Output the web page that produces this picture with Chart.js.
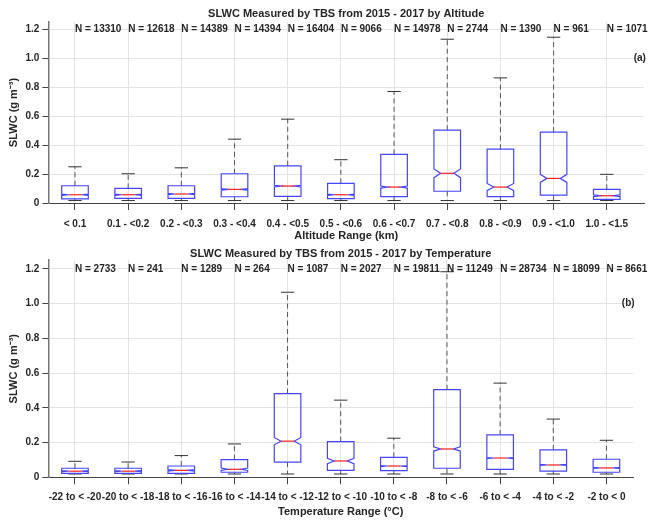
<!DOCTYPE html>
<html>
<head>
<meta charset="utf-8">
<script src="https://cdn.jsdelivr.net/npm/chart.js@4.4.0/dist/chart.umd.min.js"></script>
<style>
  body { margin: 0; background: #fff; }
  #wrap { position: relative; width: 648px; height: 523px; }
  canvas { position: absolute; left: 0; }
  #c1 { top: 0; }
  #c2 { top: 245px; }
</style>
</head>
<body>
<div id="wrap">
  <canvas id="c1" width="648" height="245"></canvas>
  <canvas id="c2" width="648" height="278"></canvas>
</div>
<script>
// ---- (a) altitude bins ----
var altLabels = ['< 0.1', '0.1 - <0.2', '0.2 - <0.3', '0.3 - <0.4', '0.4 - <0.5', '0.5 - <0.6',
                 '0.6 - <0.7', '0.7 - <0.8', '0.8 - <0.9', '0.9 - <1.0', '1.0 - <1.5'];
var altN     = [13310, 12618, 14389, 14394, 16404, 9066, 14978, 2744, 1390, 961, 1071];
var altLow   = [0.017, 0.017, 0.017, 0.017, 0.017, 0.017, 0.017, 0.017, 0.017, 0.017, 0.017];
var altQ1    = [0.028, 0.032, 0.032, 0.043, 0.046, 0.030, 0.044, 0.081, 0.044, 0.055, 0.025];
var altMed   = [0.057, 0.057, 0.062, 0.094, 0.117, 0.057, 0.110, 0.205, 0.110, 0.170, 0.050];
var altQ3    = [0.119, 0.101, 0.119, 0.202, 0.257, 0.136, 0.336, 0.503, 0.372, 0.490, 0.094];
var altHigh  = [0.250, 0.202, 0.243, 0.441, 0.579, 0.299, 0.770, 1.131, 0.864, 1.145, 0.198];
var altNotch = [0.004, 0.004, 0.004, 0.005, 0.005, 0.004, 0.007, 0.030, 0.025, 0.028, 0.006];

// ---- (b) temperature bins ----
var tempLabels = ['-22 to < -20', '-20 to < -18', '-18 to < -16', '-16 to < -14', '-14 to < -12', '-12 to < -10',
                  '-10 to < -8', '-8 to < -6', '-6 to < -4', '-4 to < -2', '-2 to < 0'];
var tempN     = [2733, 241, 1289, 264, 1087, 2027, 19811, 11249, 28734, 18099, 8661];
var tempLow   = [0.019, 0.019, 0.019, 0.019, 0.019, 0.019, 0.019, 0.019, 0.019, 0.019, 0.019];
var tempQ1    = [0.023, 0.023, 0.023, 0.029, 0.087, 0.040, 0.038, 0.052, 0.046, 0.036, 0.029];
var tempMed   = [0.035, 0.035, 0.040, 0.046, 0.208, 0.094, 0.065, 0.163, 0.111, 0.071, 0.054];
var tempQ3    = [0.052, 0.052, 0.065, 0.102, 0.482, 0.205, 0.115, 0.504, 0.244, 0.158, 0.104];
var tempHigh  = [0.092, 0.088, 0.125, 0.192, 1.065, 0.444, 0.225, 1.183, 0.542, 0.335, 0.213];
var tempNotch = [0.003, 0.003, 0.004, 0.007, 0.021, 0.015, 0.003, 0.012, 0.003, 0.003, 0.003];

var yTicks = [0, 0.2, 0.4, 0.6, 0.8, 1, 1.2];

var fam = '"Liberation Sans", Arial, Helvetica, sans-serif';
var txt = '#262626';
var gridC = '#e3e3e3';

// draws notched boxes, whiskers, N labels and panel letter
function boxPlugin(d) {
  return {
    id: 'boxes',
    afterDatasetsDraw: function(chart) {
      var ctx = chart.ctx, xs = chart.scales.x, ys = chart.scales.y;
      var hw = xs.getPixelForValue(1.25) - xs.getPixelForValue(1);
      ctx.save();
      for (var i = 0; i < d.med.length; i++) {
        var x = xs.getPixelForValue(i + 1);
        var yLo = ys.getPixelForValue(d.low[i]);
        var yQ1 = ys.getPixelForValue(d.q1[i]);
        var yMd = ys.getPixelForValue(d.med[i]);
        var yQ3 = ys.getPixelForValue(d.q3[i]);
        var yHi = ys.getPixelForValue(d.high[i]);
        var yNa = ys.getPixelForValue(d.med[i] + d.notch[i]);
        var yNb = ys.getPixelForValue(d.med[i] - d.notch[i]);

        // whiskers
        ctx.lineWidth = 1;
        ctx.strokeStyle = '#555';
        ctx.setLineDash([5, 3.5]);
        ctx.beginPath();
        ctx.moveTo(x, yQ3); ctx.lineTo(x, yHi);
        ctx.moveTo(x, yQ1); ctx.lineTo(x, yLo);
        ctx.stroke();
        ctx.setLineDash([]);
        ctx.strokeStyle = '#333';
        ctx.beginPath();
        ctx.moveTo(x - hw / 2, yHi); ctx.lineTo(x + hw / 2, yHi);
        ctx.moveTo(x - hw / 2, yLo); ctx.lineTo(x + hw / 2, yLo);
        ctx.stroke();

        // notched box
        ctx.strokeStyle = '#4646ff';
        ctx.lineWidth = 1.2;
        ctx.beginPath();
        ctx.moveTo(x - hw, yQ3);
        ctx.lineTo(x + hw, yQ3);
        ctx.lineTo(x + hw, yNa);
        ctx.lineTo(x + hw / 2, yMd);
        ctx.lineTo(x + hw, yNb);
        ctx.lineTo(x + hw, yQ1);
        ctx.lineTo(x - hw, yQ1);
        ctx.lineTo(x - hw, yNb);
        ctx.lineTo(x - hw / 2, yMd);
        ctx.lineTo(x - hw, yNa);
        ctx.closePath();
        ctx.stroke();

        // median
        ctx.strokeStyle = '#ff2020';
        ctx.beginPath();
        ctx.moveTo(x - hw / 2, yMd); ctx.lineTo(x + hw / 2, yMd);
        ctx.stroke();

        // N label
        ctx.fillStyle = txt;
        ctx.font = 'bold 10px ' + fam;
        ctx.textAlign = 'left';
        ctx.textBaseline = 'middle';
        ctx.fillText('N = ' + d.n[i], x, ys.getPixelForValue(1.2));
      }
      ctx.textAlign = 'center';
      ctx.fillText(d.tag, xs.getPixelForValue(d.tagX), ys.getPixelForValue(1.0));
      ctx.restore();
    }
  };
}

function makeChart(id, d) {
  return new Chart(document.getElementById(id), {
    type: 'scatter',
    data: {
      datasets: [{
        data: d.med.map(function(v, i) { return { x: i + 1, y: v }; }),
        pointRadius: 0
      }]
    },
    options: {
      responsive: false,
      animation: false,
      layout: { padding: { left: 0, right: d.padRight, top: 0, bottom: 0 } },
      plugins: {
        legend: { display: false },
        tooltip: { enabled: false },
        title: {
          display: true, text: d.title, fullSize: false, color: txt,
          font: { family: fam, size: 11, weight: 'bold', lineHeight: 1.1 },
          padding: { top: d.titleTop, bottom: d.titleBottom }
        }
      },
      scales: {
        x: {
          type: 'linear', min: 0.5, max: d.xMax,
          afterBuildTicks: function(s) { s.ticks = d.labels.map(function(l, i) { return { value: i + 1 }; }); },
          afterFit: function(s) { s.height = d.xHeight; },
          ticks: {
            autoSkip: false, maxRotation: 0, minRotation: 0, padding: d.tickPad, color: txt,
            font: { family: fam, size: 10, weight: 'bold' },
            callback: function(v) { return d.labels[Math.round(v) - 1]; }
          },
          grid: { color: gridC, tickColor: '#444', tickLength: 7 },
          border: { color: '#444', width: 1 },
          title: {
            display: true, text: d.xTitle, color: txt,
            font: { family: fam, size: 11, weight: 'bold' },
            padding: { top: 0, bottom: d.xTitlePad }
          }
        },
        y: {
          min: 0, max: 1.25,
          afterBuildTicks: function(s) { s.ticks = yTicks.map(function(v) { return { value: v }; }); },
          afterFit: function(s) { s.width = 48.4; },
          ticks: { padding: 3, color: txt, font: { family: fam, size: 10, weight: 'bold' } },
          grid: { color: gridC, tickColor: '#444', tickLength: 6 },
          border: { color: '#777', width: 1.5 },
          title: {
            display: true, text: 'SLWC (g m\u207B\u00B3)', color: txt,
            font: { family: fam, size: 11, weight: 'bold' },
            padding: { top: 7.4, bottom: 0 }
          }
        }
      }
    },
    plugins: [boxPlugin(d)]
  });
}

makeChart('c1', {
  labels: altLabels, n: altN, low: altLow, q1: altQ1, med: altMed, q3: altQ3, high: altHigh, notch: altNotch,
  title: 'SLWC Measured by TBS from 2015 - 2017 by Altitude', xTitle: 'Altitude Range (km)',
  tag: '(a)', tagX: 11.62, xMax: 11.7, padRight: 4,
  titleTop: 8, titleBottom: 1.9, xHeight: 42, xTitlePad: 2.4, tickPad: 8
});

makeChart('c2', {
  labels: tempLabels, n: tempN, low: tempLow, q1: tempQ1, med: tempMed, q3: tempQ3, high: tempHigh, notch: tempNotch,
  title: 'SLWC Measured by TBS from 2015 - 2017 by Temperature', xTitle: 'Temperature Range (\u00B0C)',
  tag: '(b)', tagX: 11.41, xMax: 11.5, padRight: 15,
  titleTop: 3, titleBottom: 0, xHeight: 45.7, xTitlePad: 4.7, tickPad: 7
});
</script>
</body>
</html>
